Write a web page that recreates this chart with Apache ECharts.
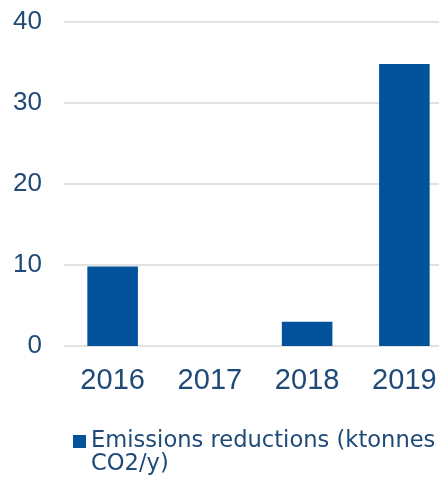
<!DOCTYPE html>
<html>
<head>
<meta charset="utf-8">
<script src="https://cdn.jsdelivr.net/npm/echarts@6/dist/echarts.min.js"></script>
<style>
  html, body { margin: 0; padding: 0; background: #fff; overflow: hidden; }
  /* plot runs past the right edge in the original, so the canvas is a bit wider than the window */
  #main { width: 453px; height: 480px; }
</style>
</head>
<body>
<div id="main"></div>
<script>
// data
const years = ["2016", "2017", "2018", "2019"];
const reductions = [9.8, 0, 3.0, 34.8];
const seriesName = "Emissions reductions (ktonnes CO2/y)";

const textColor = "#1F4A78";
const barColor = "#02529C";

const chart = echarts.init(document.getElementById("main"));
chart.setOption({
  animation: false,
  grid: { left: 64, right: 0, top: 22, bottom: 134 },
  xAxis: {
    type: "category",
    data: years,
    axisLine: { show: false },
    axisTick: { show: false },
    axisLabel: {
      color: textColor,
      fontFamily: "Liberation Sans",
      fontSize: 29,
      margin: 20,
    },
  },
  yAxis: {
    type: "value",
    min: 0,
    max: 40,
    interval: 10,
    axisLine: { show: false },
    axisTick: { show: false },
    axisLabel: {
      color: textColor,
      fontFamily: "Liberation Sans",
      fontSize: 26,
      margin: 22,
    },
    splitLine: { lineStyle: { color: "#D9D9D9", width: 1.5 } },
  },
  legend: {
    left: 73,
    top: 407,
    padding: 0,
    icon: "rect",
    itemWidth: 13,
    itemHeight: 13,
    itemGap: 7,
    // empty first line keeps the square level with the first text line
    formatter: (name) => "\n" + name.replace(" CO2", "\nCO2"),
    textStyle: {
      color: textColor,
      fontFamily: "DejaVu Sans",
      fontSize: 22.6,
      lineHeight: 23,
    },
  },
  series: [
    {
      name: seriesName,
      type: "bar",
      data: reductions,
      barWidth: "52%",
      itemStyle: { color: barColor },
    },
  ],
});
</script>
</body>
</html>
